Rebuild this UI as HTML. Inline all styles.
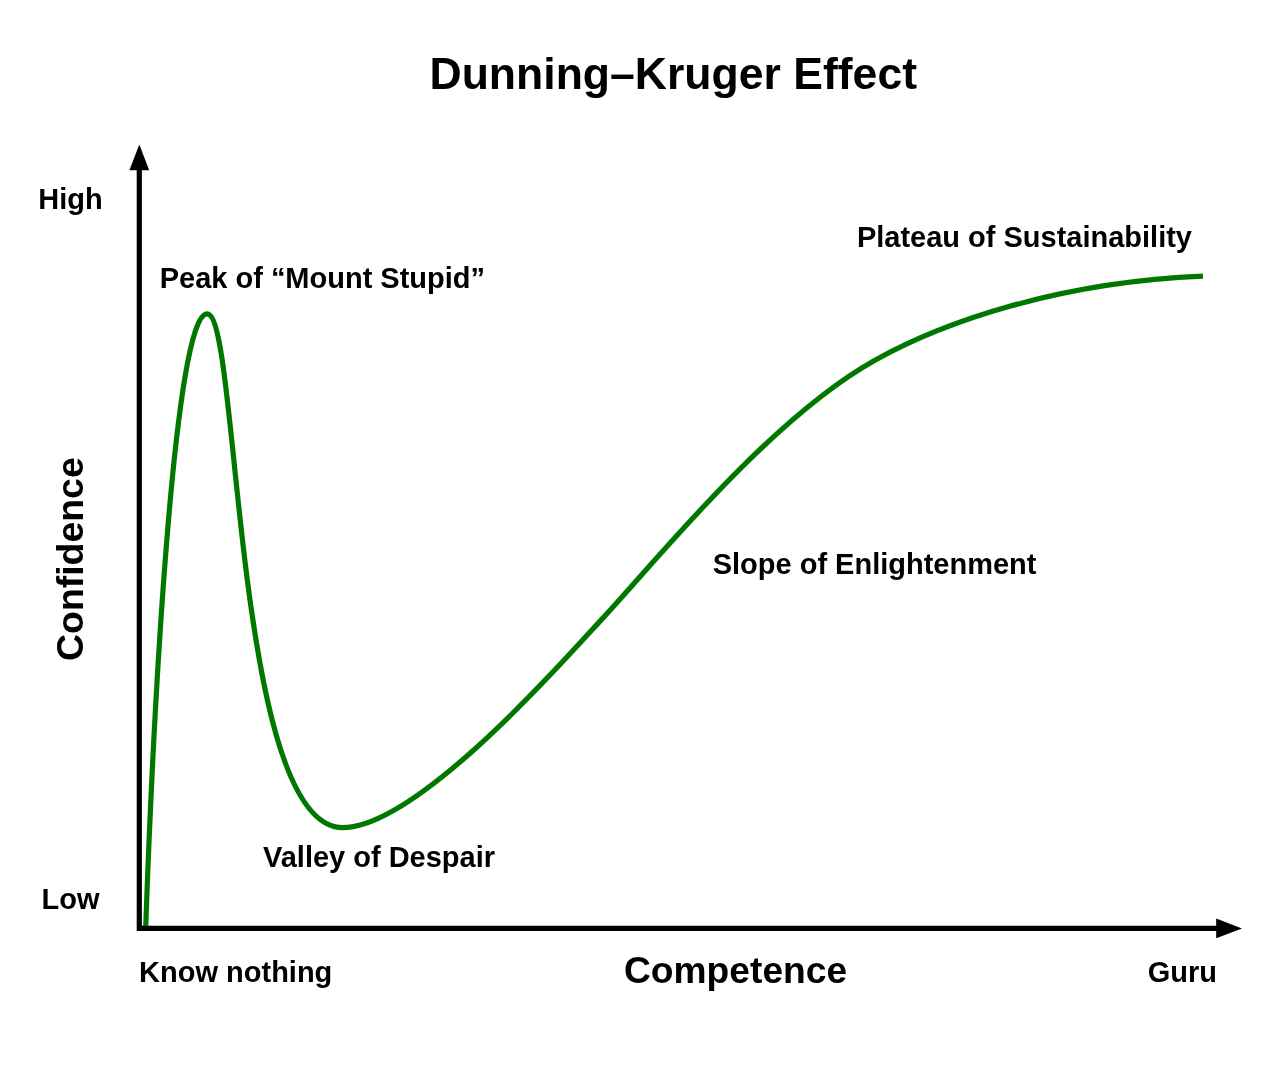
<!DOCTYPE html>
<html lang="en">
<head>
<meta charset="utf-8">
<title>Dunning–Kruger Effect</title>
<style>
html,body{margin:0;padding:0;background:#fff;}
body{width:1280px;height:1065px;overflow:hidden;}
svg{display:block;}
text{font-family:"Liberation Sans",Arial,Helvetica,sans-serif;font-weight:bold;fill:#000;}
.t{font-size:44.0px;}
.a{font-size:36.75px;}
.l{font-size:28.65px;}
</style>
</head>
<body>
<svg width="1280" height="1065" viewBox="0 0 1280 1065">
<rect width="1280" height="1065" fill="#fff"/>
<path d="M145.6,930.0 C153.6,704.1 174.3,313.8 207.1,313.8 C239.9,313.8 233.2,827.6 342.6,827.6 C419.5,827.6 573.0,649.9 603.3,617.6 C652.5,565.1 769.2,419.3 874.5,360.5 C943.7,321.9 1058.5,282.1 1203.0,276.2" fill="none" stroke="#007800" stroke-width="5.2"/>
<path d="M139.3,168 V928.4 H1218" fill="none" stroke="#000" stroke-width="5.2" stroke-linejoin="miter"/>
<path d="M139.3,144.6 L149.2,170.2 H129.4 Z" fill="#000"/>
<path d="M1242,928.4 L1216.2,938.2 V918.6 Z" fill="#000"/>
<text class="t" transform="translate(429.50,88.75) scale(1.0125,1)">Dunning–Kruger Effect</text>
<text class="l" transform="translate(38.30,209.30) scale(1.0125,1)">High</text>
<text class="l" transform="translate(41.50,909.30) scale(1.0125,1)">Low</text>
<text class="l" transform="translate(159.70,288.40) scale(1.0125,1)">Peak of “Mount Stupid”</text>
<text class="l" transform="translate(856.90,246.50) scale(1.0125,1)">Plateau of Sustainability</text>
<text class="l" transform="translate(712.70,574.30) scale(1.0125,1)">Slope of Enlightenment</text>
<text class="l" transform="translate(263.00,867.20) scale(1.0125,1)">Valley of Despair</text>
<text class="l" transform="translate(139.10,981.80) scale(1.0125,1)">Know nothing</text>
<text class="a" transform="translate(623.95,982.70) scale(1.0125,1)">Competence</text>
<text class="l" transform="translate(1147.65,982.00) scale(1.0125,1)">Guru</text>
<text class="a" transform="translate(83.20,661.00) rotate(-90) scale(1.0186,1)">Confidence</text>
</svg>
</body>
</html>
